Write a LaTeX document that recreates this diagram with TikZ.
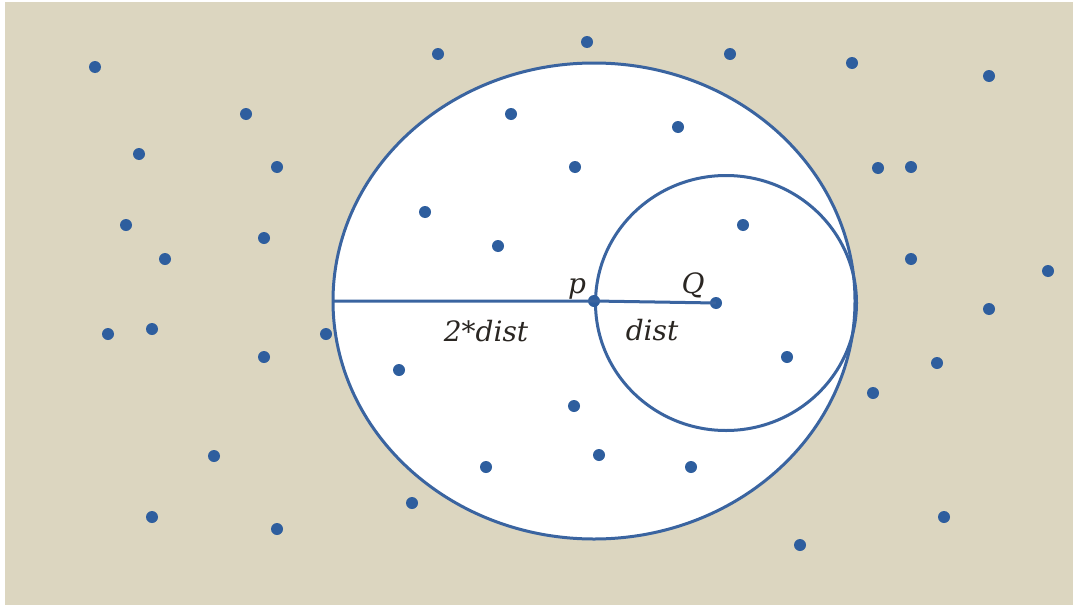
\documentclass[tikz,border=0pt]{standalone}
\usepackage{fontspec}
\newfontfamily\lblfont{DejaVu Serif}
\definecolor{bg}{HTML}{DCD6C0}
\definecolor{blu}{HTML}{3A64A0}
\definecolor{dotc}{HTML}{2E5E9E}
\definecolor{txt}{HTML}{2A2622}
\begin{document}
\begin{tikzpicture}[x=1pt,y=-1pt,
  dot/.style={circle,fill=dotc,inner sep=0pt,minimum size=12pt},
  ring/.style={draw=blu,line width=3pt},
  lbl/.style={font=\lblfont\itshape\fontsize{28}{32}\selectfont,text=txt,inner sep=0pt}]
\useasboundingbox (0,0) rectangle (1073,605);
\fill[white] (0,0) rectangle (1073,605);
\fill[bg] (5,2) rectangle (1073,605);
% circles
\fill[white] (594,301) ellipse [x radius=261,y radius=238];
\draw[ring] (594,301) ellipse [x radius=261,y radius=238];
\draw[ring] (726,303) ellipse [x radius=130.5,y radius=127.5];
% dots
\foreach \x/\y [count=\i] in {95/67,438/54,587/42,730/54,852/63,989/76,246/114,511/114,678/127,139/154,277/167,575/167,878/168,911/167,126/225,425/212,743/225,264/238,498/246,165/259,911/259,1048/271,989/309,108/334,152/329,326/334,264/357,399/370,787/357,937/363,873/393,574/406,214/456,599/455,486/467,691/467,412/503,152/517,277/529,944/517,800/545}
  \node[dot] (d\i) at (\x,\y) {};
\node[dot] (p) at (594,301) {};
\node[dot] (Q) at (716,303) {};
\coordinate (L) at (333,301);
\draw[blu,line width=3pt] (L) -- (p.center) -- (Q.center);
\node[lbl] (pl) at (577,289) {p};
\node[lbl] (ql) at (693,285) {Q};
\node[lbl] (d2) at (486,331) {2*dist};
\node[lbl] (d1) at (652,330) {dist};
\end{tikzpicture}
\end{document}
